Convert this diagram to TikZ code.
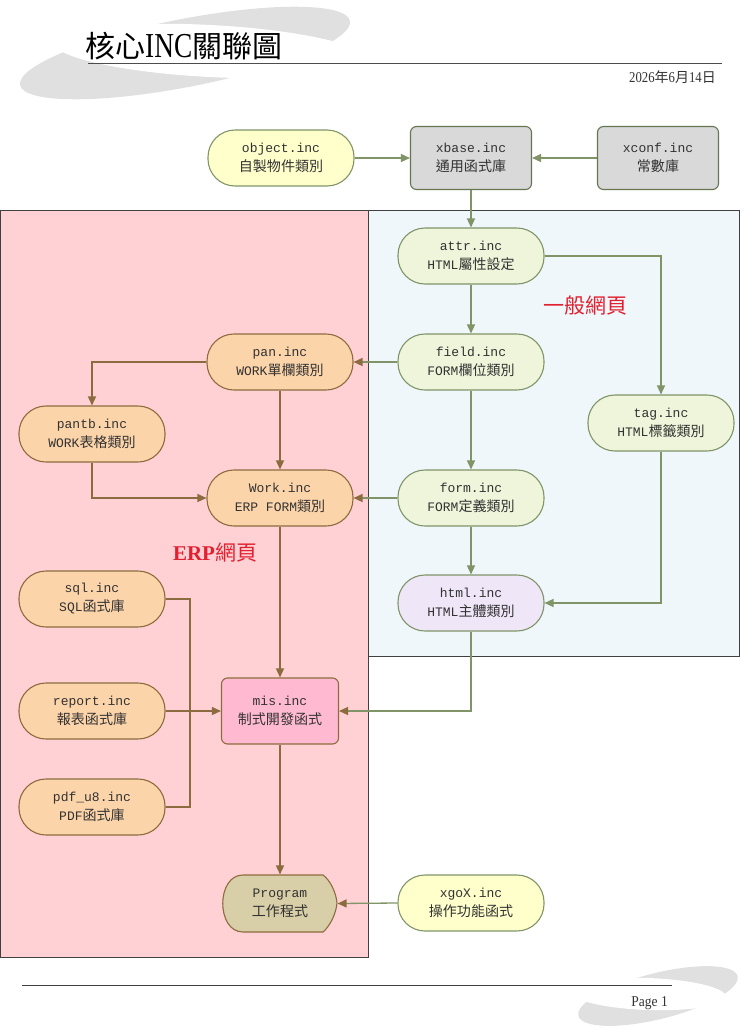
\documentclass[tikz,border=0pt]{standalone}
\usepackage{fontspec}
\setmainfont{Liberation Serif}
\newfontfamily\han[Scale=1.08]{Noto Sans CJK TC}
\newfontfamily\hantitle{Noto Sans CJK TC}
\newfontfamily\latn{Liberation Mono}
\usetikzlibrary{arrows.meta,calc}
\definecolor{pinkbg}{RGB}{255,209,212}
\definecolor{bluebg}{RGB}{239,247,250}
\definecolor{yelf}{RGB}{255,255,204}
\definecolor{grnf}{RGB}{238,245,218}
\definecolor{gryf}{RGB}{217,217,217}
\definecolor{orgf}{RGB}{252,212,170}
\definecolor{lavf}{RGB}{239,230,248}
\definecolor{misf}{RGB}{255,186,210}
\definecolor{prgf}{RGB}{216,206,168}
\definecolor{gline}{RGB}{128,148,104}
\definecolor{bline}{RGB}{140,108,62}
\definecolor{txt}{RGB}{50,50,50}
\definecolor{redl}{RGB}{226,32,48}
\definecolor{swoosh}{RGB}{224,224,224}
\tikzset{
  base/.style={align=center,text=txt,font=\fontsize{13}{19}\selectfont\latn,line width=1.1pt,inner sep=0pt},
  pill/.style={base,rectangle,rounded corners=27pt,minimum width=146pt,minimum height=56pt},
  yelpill/.style={pill,fill=yelf,draw=gline},
  grnpill/.style={pill,fill=grnf,draw=gline},
  lavpill/.style={pill,fill=lavf,draw=gline},
  orgpill/.style={pill,fill=orgf,draw=bline},
  graybox/.style={base,rectangle,rounded corners=6pt,minimum width=121pt,minimum height=63pt,fill=gryf,draw=gline!80!black},
  misbox/.style={base,rectangle,rounded corners=6pt,minimum width=117pt,minimum height=66pt,fill=misf,draw=bline},
  gc/.style={draw=gline,line width=1.3pt,-{Triangle[length=9pt,width=8pt]}},
  gcb/.style={draw=gline,line width=1.3pt,-{Triangle[length=9pt,width=8pt,color=bline]}},
  bc/.style={draw=bline,line width=1.3pt,-{Triangle[length=9pt,width=8pt]}},
  bcn/.style={draw=bline,line width=1.3pt},
  redlabel/.style={text=redl,font=\fontsize{21}{21}\selectfont}
}
\begin{document}
\begin{tikzpicture}[x=1pt,y=-1pt]
\useasboundingbox (0,0) rectangle (740,1028);
\fill[white] (0,0) rectangle (740,1028);
% header swoosh
\fill[swoosh] (185,53) ellipse[x radius=168,y radius=34,rotate=11];
\fill[white] (210,51) ellipse[x radius=156,y radius=26,rotate=-3];
% footer swoosh
\fill[swoosh] (658,996) ellipse[x radius=82,y radius=23,rotate=14];
\fill[white] (648,994) ellipse[x radius=78,y radius=16,rotate=-2];
% title
\node[anchor=base west,inner sep=0pt,text=black] (title) at (85,57)
  {{\hantitle\fontsize{30}{30}\selectfont 核心}{\fontsize{35}{35}\selectfont\addfontfeature{FakeStretch=0.78}INC}{\hantitle\fontsize{30}{30}\selectfont 關聯圖}};
\draw[line width=1pt,draw=black!70] (88,63.5) -- (722,63.5);
\node[anchor=base east,inner sep=0pt,text=black!80] (date) at (716,82)
  {\fontsize{15}{15}\selectfont\addfontfeature{FakeStretch=0.85}2026{\hantitle\fontsize{14}{14}\selectfont 年}6{\hantitle\fontsize{14}{14}\selectfont 月}14{\hantitle\fontsize{14}{14}\selectfont 日}};
% footer
\draw[line width=0.9pt,draw=black!75] (22,985.5) -- (672,985.5);
\node[anchor=base east,inner sep=0pt,text=black!80] (page) at (668,1006)
  {\fontsize{15}{15}\selectfont\addfontfeature{FakeStretch=0.9}Page 1};
% regions
\draw[fill=pinkbg,draw=black!75,line width=0.8pt] (0.5,210) rectangle (368,957);
\draw[fill=bluebg,draw=black!75,line width=0.8pt] (368,210) rectangle (739.5,656);
% labels
\node[redlabel] (lblweb) at (585,306) {\hantitle 一般網頁};
\node[redlabel] (lblerp) at (215,553) {\textbf{ERP}\hantitle 網頁};
% nodes
\node[yelpill] (obj) at (281,158) {object.inc\\{\han 自製物件類別}};
\node[graybox] (xbase) at (471,158) {xbase.inc\\{\han 通用函式庫}};
\node[graybox] (xconf) at (658,158) {xconf.inc\\{\han 常數庫}};
\node[grnpill] (attr) at (471,256) {attr.inc\\HTML{\han 屬性設定}};
\node[grnpill] (field) at (471,362) {field.inc\\FORM{\han 欄位類別}};
\node[grnpill] (tag) at (661,423) {tag.inc\\HTML{\han 標籤類別}};
\node[grnpill] (form) at (471,498) {form.inc\\FORM{\han 定義類別}};
\node[lavpill] (html) at (471,603) {html.inc\\HTML{\han 主體類別}};
\node[orgpill] (pan) at (280,362) {pan.inc\\WORK{\han 單欄類別}};
\node[orgpill] (pantb) at (92,434) {pantb.inc\\WORK{\han 表格類別}};
\node[orgpill] (work) at (280,498) {Work.inc\\ERP FORM{\han 類別}};
\node[orgpill] (sql) at (92,599) {sql.inc\\SQL{\han 函式庫}};
\node[orgpill] (report) at (92,711) {report.inc\\{\han 報表函式庫}};
\node[orgpill] (pdf) at (92,807) {pdf\_u8.inc\\PDF{\han 函式庫}};
\node[misbox] (mis) at (280,711) {mis.inc\\{\han 制式開發函式}};
\node[yelpill] (xgox) at (471,903) {xgoX.inc\\{\han 操作功能函式}};
% program shape
\draw[fill=prgf,draw=bline,line width=1.1pt]
  (243,875) -- (323,875) .. controls (330,880) and (336,892) .. (337,903)
  .. controls (336,914) and (330,926) .. (323,932) -- (243,932)
  .. controls (216,932) and (216,875) .. (243,875) -- cycle;
\node[base,minimum width=114pt,minimum height=57pt] (prog) at (280,903.5) {Program\\{\han 工作程式}};
% connectors
\coordinate (jn) at (190,711);
\draw[gc] (obj.east) -- (xbase.west);
\draw[gc] (xconf.west) -- (xbase.east);
\draw[gc] (xbase.south) -- (attr.north);
\draw[gc] (attr.south) -- (field.north);
\draw[gc] (attr.east) -| (tag.north);
\draw[gc] (field.south) -- (form.north);
\draw[gcb] (field.west) -- (pan.east);
\draw[bc] (pan.west) -| (pantb.north);
\draw[bc] (pan.south) -- (work.north);
\draw[bc] (pantb.south) |- (work.west);
\draw[gcb] (form.west) -- (work.east);
\draw[gc] (form.south) -- (html.north);
\draw[gc] (tag.south) |- (html.east);
\draw[gcb] (html.south) |- (mis.east);
\draw[bc] (work.south) -- (mis.north);
\draw[bcn] (sql.east) -| (jn);
\draw[bcn] (pdf.east) -| (jn);
\draw[bc] (report.east) -- (mis.west);
\draw[bc] (mis.south) -- (prog.north);
\draw[gcb] (xgox.west) -- (prog.east);
\end{tikzpicture}
\end{document}
